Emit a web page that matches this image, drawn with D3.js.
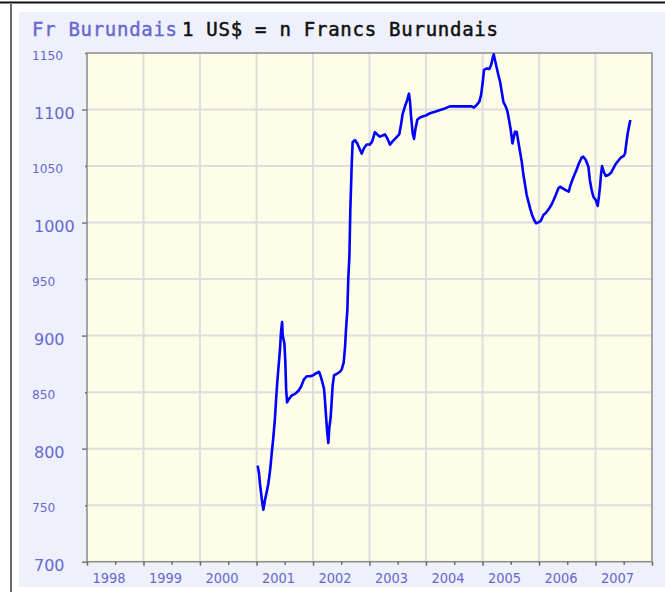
<!DOCTYPE html>
<html>
<head>
<meta charset="utf-8">
<script src="https://cdn.jsdelivr.net/npm/d3@7"></script>
<style>
  body { margin: 0; background: #fff; }
  svg { display: block; }
</style>
</head>
<body>
<svg width="665" height="592"></svg>
<script>
// weekly-ish readings of the BIF / USD rate
const dates = [
  "2001-01-08","2001-01-17","2001-01-23","2001-01-30","2001-02-07","2001-02-14","2001-02-25","2001-03-08",
  "2001-03-18","2001-03-27","2001-04-03","2001-04-09","2001-04-18","2001-04-29","2001-05-07","2001-05-15",
  "2001-05-24","2001-06-02","2001-06-08","2001-06-15","2001-06-19","2001-06-30","2001-07-06","2001-07-11",
  "2001-07-17","2001-07-30","2001-08-16","2001-09-11","2001-09-28","2001-10-16","2001-11-02","2001-11-21",
  "2001-12-13","2002-01-03","2002-01-25","2002-02-09","2002-02-17","2002-03-02","2002-03-13","2002-03-19",
  "2002-03-26","2002-04-03","2002-04-10","2002-04-16","2002-04-25","2002-05-02","2002-05-08","2002-05-17",
  "2002-06-03","2002-06-24","2002-07-05","2002-07-18","2002-07-27","2002-08-02","2002-08-11","2002-08-17",
  "2002-08-24","2002-08-30","2002-09-08","2002-09-14","2002-09-29","2002-10-14","2002-10-27","2002-11-12",
  "2002-11-27","2002-12-14","2003-01-04","2003-01-19","2003-02-05","2003-02-20","2003-03-10","2003-03-27",
  "2003-04-11","2003-04-26","2003-05-13","2003-05-31","2003-06-21","2003-07-12","2003-07-23","2003-08-03",
  "2003-08-18","2003-09-02","2003-09-13","2003-09-20","2003-09-26","2003-10-07","2003-10-16","2003-10-24",
  "2003-11-06","2003-11-23","2003-12-15","2004-01-05","2004-01-27","2004-02-28","2004-04-01","2004-05-03",
  "2004-06-04","2004-08-08","2004-10-23","2004-11-06","2004-11-24","2004-12-11","2004-12-22","2005-01-01",
  "2005-01-10","2005-01-28","2005-02-14","2005-02-25","2005-03-08","2005-03-14","2005-03-22","2005-04-03",
  "2005-04-13","2005-04-24","2005-05-05","2005-05-15","2005-05-31","2005-06-10","2005-06-21","2005-07-02",
  "2005-07-13","2005-07-22","2005-07-30","2005-08-10","2005-08-20","2005-08-31","2005-09-11","2005-09-22",
  "2005-10-03","2005-10-13","2005-10-24","2005-11-04","2005-11-17","2005-11-30","2005-12-13","2005-12-28",
  "2006-01-12","2006-01-29","2006-02-15","2006-03-08","2006-03-23","2006-04-08","2006-04-21","2006-05-06",
  "2006-05-17","2006-06-03","2006-06-22","2006-07-12","2006-07-20","2006-08-02","2006-08-15","2006-09-01",
  "2006-09-16","2006-10-04","2006-10-14","2006-10-30","2006-11-16","2006-11-25","2006-12-07","2006-12-18",
  "2007-01-02","2007-01-15","2007-01-23","2007-01-30","2007-02-05","2007-02-12","2007-02-23","2007-03-08",
  "2007-03-25","2007-04-11","2007-04-26","2007-05-11","2007-05-28","2007-06-15","2007-07-02","2007-07-11",
  "2007-07-19","2007-07-28","2007-08-05","2007-08-14"
];
const rates = [
  785, 778, 769, 761, 752, 746, 755, 762,
  769, 778, 787, 796, 808, 825, 843, 859,
  874, 889, 903, 912, 900, 893, 877, 853,
  841, 844, 847, 849, 851, 855, 861, 864,
  864, 865, 867, 868, 865, 859, 853, 843,
  829, 814, 805, 818, 828, 843, 856, 865,
  866, 868, 870, 876, 890, 905, 923, 951,
  970, 1011, 1051, 1071, 1073, 1070, 1066, 1061,
  1066, 1069, 1069, 1072, 1080, 1078, 1076, 1077,
  1078, 1074.5, 1069, 1072, 1075, 1078, 1086, 1096,
  1102.5, 1108.5, 1114, 1107, 1095, 1079, 1074, 1082,
  1091, 1093, 1094, 1095, 1096.7, 1098, 1099.6, 1101,
  1102.8, 1102.8, 1102.8, 1101.8, 1104, 1107, 1112.8, 1123,
  1135, 1136.3, 1135.8, 1139.4, 1146, 1148.8, 1143.8, 1136.5,
  1130.5, 1124.6, 1115.8, 1107, 1102.5, 1098.7, 1090.7, 1081.9,
  1070, 1076, 1080.4, 1080, 1071.5, 1062.7, 1054, 1042,
  1033, 1024.4, 1018.5, 1012.6, 1006.7, 1002.3, 999.4, 1000.2,
  1001.4, 1006.7, 1008.7, 1012.6, 1016, 1020.9, 1025, 1030.3,
  1031.7, 1030.3, 1028.8, 1027.3, 1031.7, 1037, 1041.5, 1047,
  1052.5, 1057.7, 1058.3, 1055.3, 1049.4, 1037.7, 1028.8, 1022.9,
  1020, 1014.7, 1022.9, 1031.7, 1042, 1050, 1045, 1041.2,
  1042, 1044, 1048, 1051.8, 1054.7, 1057.7, 1058.9, 1061.3,
  1070, 1079, 1084.8, 1090.7
];

const yTicks = [700, 750, 800, 850, 900, 950, 1000, 1050, 1100, 1150];
const years = [1998, 1999, 2000, 2001, 2002, 2003, 2004, 2005, 2006, 2007, 2008];
const titleCurrency = "Fr Burundais";
const titleText = "1 US$ = n Francs Burundais";

const parse = d3.timeParse("%Y-%m-%d");
const data = dates.map((d, i) => ({ date: parse(d), rate: rates[i] }));

const svg = d3.select("svg");
const labelColor = "#6767cf";

// frame + panel
svg.append("rect").attr("x", 19).attr("y", 12).attr("width", 646).attr("height", 575).attr("fill", "#eef1fb");
svg.append("line").attr("x1", 0).attr("x2", 665).attr("y1", 2.5).attr("y2", 2.5)
   .attr("stroke", "#111").attr("stroke-width", 2);
svg.append("line").attr("x1", 11).attr("x2", 11).attr("y1", 4).attr("y2", 592)
   .attr("stroke", "#6a6a6a").attr("stroke-width", 2);

const plotLeft = 87, plotRight = 652, plotTop = 53, plotBottom = 561.7;

const x = d3.scaleTime()
  .domain([new Date(1998, 0, 1), new Date(2008, 0, 1)])
  .range([plotLeft, plotRight]);
const y = d3.scaleLinear()
  .domain([700, 1150])
  .range([plotBottom, plotTop]);

// plot background
svg.append("rect")
  .attr("x", plotLeft).attr("y", plotTop)
  .attr("width", plotRight - plotLeft).attr("height", plotBottom - plotTop)
  .attr("fill", "#fefde7");

// grid
svg.append("g").selectAll("line")
  .data(yTicks.slice(1, -1))
  .join("line")
  .attr("x1", plotLeft).attr("x2", plotRight)
  .attr("y1", d => y(d)).attr("y2", d => y(d))
  .attr("stroke", "#dedede").attr("stroke-width", 2);
svg.append("g").selectAll("line")
  .data(years.slice(1, -1))
  .join("line")
  .attr("x1", d => x(new Date(d, 0, 1))).attr("x2", d => x(new Date(d, 0, 1)))
  .attr("y1", plotTop).attr("y2", plotBottom)
  .attr("stroke", "#dedede").attr("stroke-width", 2);

// plot border
svg.append("rect")
  .attr("x", plotLeft).attr("y", plotTop)
  .attr("width", plotRight - plotLeft).attr("height", plotBottom - plotTop)
  .attr("fill", "none").attr("stroke", "#8a8a8a").attr("stroke-width", 1.5);

// y axis
const yAxis = svg.append("g")
  .attr("transform", `translate(${plotLeft},0)`)
  .call(d3.axisLeft(y).tickValues(yTicks).tickSize(5).tickFormat(d3.format("d")));
yAxis.select(".domain").remove();
yAxis.selectAll(".tick line")
  .attr("stroke", "#777").attr("stroke-width", 1.5)
  .attr("x2", d => d % 100 === 0 ? -5 : -2);
yAxis.selectAll(".tick text")
  .attr("dy", null)
  .attr("text-anchor", "start")
  .attr("fill", labelColor)
  .attr("font-family", "'DejaVu Sans', Verdana, sans-serif")
  .each(function(d) {
    const big = d % 100 === 0;
    const t = d3.select(this);
    t.attr("font-size", big ? 16 : 13)
     .attr("y", big ? 9 : 6);
    if (!big) {
      t.attr("x", -55)
       .attr("textLength", String(d).length * 7.75)
       .attr("lengthAdjust", "spacingAndGlyphs");
    } else {
      t.attr("x", -53);
    }
  });

// x axis: year boundaries + mid-year minor ticks
const xAxis = svg.append("g")
  .attr("transform", `translate(0,${plotBottom})`)
  .call(d3.axisBottom(x)
    .tickValues(years.map(yr => new Date(yr, 0, 1)))
    .tickSize(4)
    .tickFormat(d => d.getFullYear() < 2008 ? d3.timeFormat("%Y")(d) : ""));
xAxis.select(".domain").remove();
xAxis.selectAll(".tick line").attr("stroke", "#666").attr("stroke-width", 1.5);
xAxis.selectAll(".tick text")
  .attr("text-anchor", "start")
  .attr("x", 5).attr("y", 21.5).attr("dy", null)
  .attr("fill", labelColor)
  .attr("font-family", "'DejaVu Sans', Verdana, sans-serif")
  .attr("font-size", 14)
  .attr("textLength", 33)
  .attr("lengthAdjust", "spacingAndGlyphs");

const xMinor = svg.append("g")
  .attr("transform", `translate(0,${plotBottom})`)
  .call(d3.axisBottom(x)
    .tickValues(years.slice(0, -1).map(yr => new Date(yr, 6, 2)))
    .tickSize(3)
    .tickFormat(""));
xMinor.select(".domain").remove();
xMinor.selectAll(".tick line").attr("stroke", "#666").attr("stroke-width", 1.5);

// rate line
svg.append("path")
  .datum(data)
  .attr("fill", "none")
  .attr("stroke", "#0000ff")
  .attr("stroke-width", 2.6)
  .attr("stroke-linejoin", "round")
  .attr("d", d3.line().x(d => x(d.date)).y(d => y(d.rate)));

// title
const title = svg.append("g")
  .attr("font-family", "'DejaVu Sans Mono', 'Liberation Mono', monospace")
  .attr("font-size", 19);
title.append("text")
  .attr("x", 32).attr("y", 36)
  .attr("fill", labelColor)
  .attr("stroke", labelColor).attr("stroke-width", 0.4)
  .attr("textLength", 145).attr("lengthAdjust", "spacing")
  .text(titleCurrency);
title.append("text")
  .attr("x", 182).attr("y", 36)
  .attr("fill", "#111")
  .attr("stroke", "#111").attr("stroke-width", 0.5)
  .attr("textLength", 316).attr("lengthAdjust", "spacing")
  .text(titleText);
</script>
</body>
</html>
